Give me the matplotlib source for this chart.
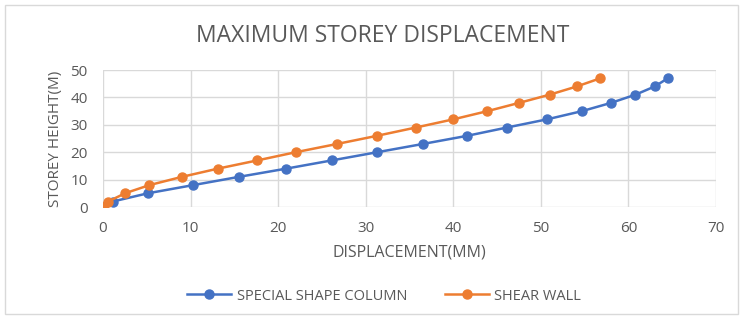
import matplotlib.pyplot as plt
from matplotlib.patches import Rectangle

plt.rcParams['font.family'] = ['Open Sans', 'DejaVu Sans']

# storey heights (m)
heights = [0, 2, 5, 8, 11, 14, 17, 20, 23, 26, 29, 32, 35, 38, 41, 44, 47]

# displacement (mm)
special_shape_column = [0, 1.1, 5.1, 10.3, 15.5, 20.9, 26.1, 31.3, 36.5, 41.6,
                        46.1, 50.7, 54.7, 58.0, 60.8, 63.0, 64.5]
shear_wall = [0, 0.6, 2.5, 5.3, 9.0, 13.1, 17.6, 22.0, 26.7, 31.3,
              35.7, 40.0, 43.9, 47.5, 51.0, 54.1, 56.8]

blue = '#4472C4'
orange = '#ED7D31'
text_col = '#595959'

fig = plt.figure(figsize=(7.43, 3.19), dpi=100)
ax = fig.add_axes([0.1386, 0.351, 0.8251, 0.4295])

# outer chart border
fig.patches.append(Rectangle((0.007, 0.016), 0.986, 0.968, transform=fig.transFigure,
                             fill=False, edgecolor='#d9d9d9', linewidth=1))

ax.plot(special_shape_column, heights, '-o', color=blue, lw=1.8, ms=6.5,
        label='SPECIAL SHAPE COLUMN', zorder=3)
ax.plot(shear_wall, heights, '-o', color=orange, lw=1.8, ms=6.5,
        label='SHEAR WALL', zorder=3)

ax.set_xlim(0, 70)
ax.set_ylim(0, 50)
ax.set_xticks(range(0, 71, 10))
ax.set_yticks(range(0, 51, 10))
ax.grid(True, color='#d9d9d9', linewidth=1)
ax.set_axisbelow(True)
for s in ax.spines.values():
    s.set_visible(False)
ax.tick_params(length=0, labelsize=11, colors=text_col)
ax.tick_params(axis='x', pad=10)
ax.tick_params(axis='y', pad=11)

fig.text(0.515, 1 - 36 / 319, 'MAXIMUM STOREY DISPLACEMENT', fontsize=16.5,
         color=text_col, ha='center', va='center')
ax.set_xlabel('DISPLACEMENT(MM)', fontsize=11.5, color=text_col, labelpad=6)
ax.set_ylabel('STOREY HEIGHT(M)', fontsize=11, color=text_col, labelpad=5)

fig.legend(loc='center', bbox_to_anchor=(0.517, 0.072), ncol=2, frameon=False,
           fontsize=10.5, labelcolor=text_col, handlelength=3.0, columnspacing=2.6,
           handletextpad=0.4)

fig.savefig('out.png', dpi=100)
